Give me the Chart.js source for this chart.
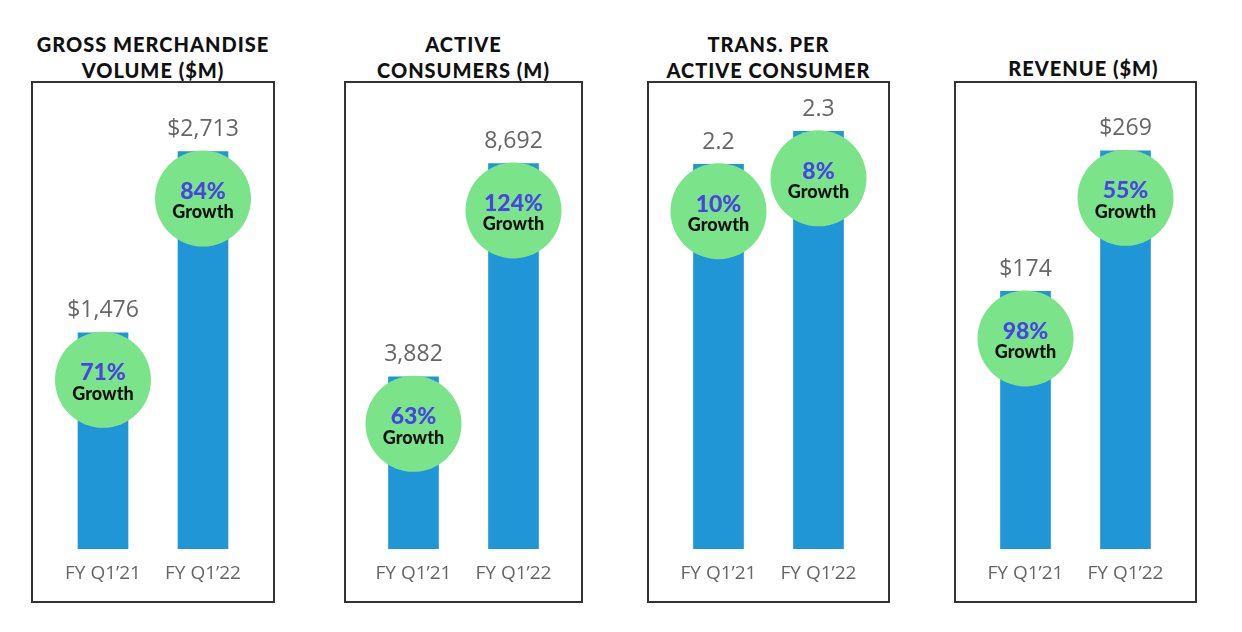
<!DOCTYPE html>
<html>
<head>
<meta charset="utf-8">
<script src="https://cdn.jsdelivr.net/npm/chart.js@4.4.1/dist/chart.umd.min.js"></script>
<style>
  body { margin: 0; background: #fff; width: 1242px; height: 632px; position: relative; overflow: hidden; }
  .title { position: absolute; top: 31px; text-align: center; font-family: Lato, "Open Sans", sans-serif; font-weight: 900; font-size: 20px; letter-spacing: 1px; line-height: 26px; color: #111; white-space: nowrap; }
  .box { position: absolute; top: 81px; height: 522px; border: 2px solid #333; box-sizing: border-box; }
  canvas { position: absolute; top: 82px; }
</style>
</head>
<body>
<script>
// categories
const quarters = ["FY Q1\u201921", "FY Q1\u201922"];

// panel titles
const gmvTitle = ["GROSS MERCHANDISE", "VOLUME ($M)"];
const consumersTitle = ["ACTIVE", "CONSUMERS (M)"];
const transTitle = ["TRANS. PER", "ACTIVE CONSUMER"];
const revenueTitle = ["REVENUE ($M)"];

// series values
const gmv = [1476, 2713];
const consumers = [3882, 8692];
const transPerConsumer = [2.2, 2.3];
const revenue = [174, 269];

// growth badges
const gmvGrowth = ["71%", "84%"];
const consumersGrowth = ["63%", "124%"];
const transGrowth = ["10%", "8%"];
const revenueGrowth = ["98%", "55%"];

const BAR = '#2196d6';
const CIRCLE = '#7be38a';
const PCT = '#4646e2';

// value labels + green circles on top of each bar
function badgePlugin(format, growth) {
    return {
        id: 'badges',
        afterDatasetsDraw(chart) {
            const ctx = chart.ctx;
            const meta = chart.getDatasetMeta(0);
            meta.data.forEach((bar, i) => {
                const v = chart.data.datasets[0].data[i];
                ctx.save();
                ctx.textAlign = 'center';
                ctx.textBaseline = 'middle';
                ctx.fillStyle = '#666';
                ctx.font = '23px "Open Sans", sans-serif';
                ctx.fillText(format(v), bar.x, bar.y - 22);

                const cy = bar.y + 47;
                ctx.beginPath();
                ctx.arc(bar.x, cy, 48, 0, Math.PI * 2);
                ctx.fillStyle = CIRCLE;
                ctx.fill();

                ctx.fillStyle = PCT;
                ctx.font = '900 23px Lato, "Open Sans", sans-serif';
                ctx.fillText(growth[i], bar.x, cy - 7);
                ctx.fillStyle = '#111';
                ctx.font = '900 18px Lato, "Open Sans", sans-serif';
                ctx.fillText('Growth', bar.x, cy + 14);
                ctx.restore();
            });
        }
    };
}

function makePanel(left, width, title, titleShift, values, growth, yMin, yMax, format) {
    let t = document.createElement('div');
    t.className = 'title';
    t.style.left = (left + titleShift) + 'px';
    t.style.width = width + 'px';
    if (title.length == 1) t.style.top = '55px';
    t.innerHTML = title.join('<br>');
    document.body.appendChild(t);

    let b = document.createElement('div');
    b.className = 'box';
    b.style.left = (left - 1) + 'px';
    b.style.width = (width + 2) + 'px';
    document.body.appendChild(b);

    let c = document.createElement('canvas');
    c.width = width;
    c.height = 520;
    c.style.left = left + 'px';
    document.body.appendChild(c);

    let side = (width - 200) / 2;
    new Chart(c.getContext('2d'), {
        type: 'bar',
        data: {
            labels: quarters,
            datasets: [{
                data: values,
                backgroundColor: BAR,
                barThickness: 50
            }]
        },
        options: {
            responsive: false,
            animation: false,
            layout: { padding: { left: side, right: side, top: 0, bottom: 4.2 } },
            plugins: {
                legend: { display: false },
                tooltip: { enabled: false }
            },
            scales: {
                x: {
                    grid: { display: false, drawTicks: false },
                    border: { display: false },
                    ticks: { color: '#666', padding: 13, font: { family: '"Open Sans", sans-serif', size: 19 } }
                },
                y: { display: false, min: yMin, max: yMax }
            }
        },
        plugins: [badgePlugin(format, growth)]
    });
}

const dollars = v => '$' + v.toLocaleString('en-US');
const plain = v => v.toLocaleString('en-US');

makePanel(32, 242, gmvTitle, 0, gmv, gmvGrowth, 0, 3188, dollars);
makePanel(345, 237, consumersTitle, 0, consumers, consumersGrowth, 0, 10530, plain);
makePanel(648, 241, transTitle, 0, transPerConsumer, transGrowth, 1.03, 2.45, v => v.toFixed(1));
makePanel(955, 241, revenueTitle, 8, revenue, revenueGrowth, 0, 315.5, dollars);
</script>
</body>
</html>
